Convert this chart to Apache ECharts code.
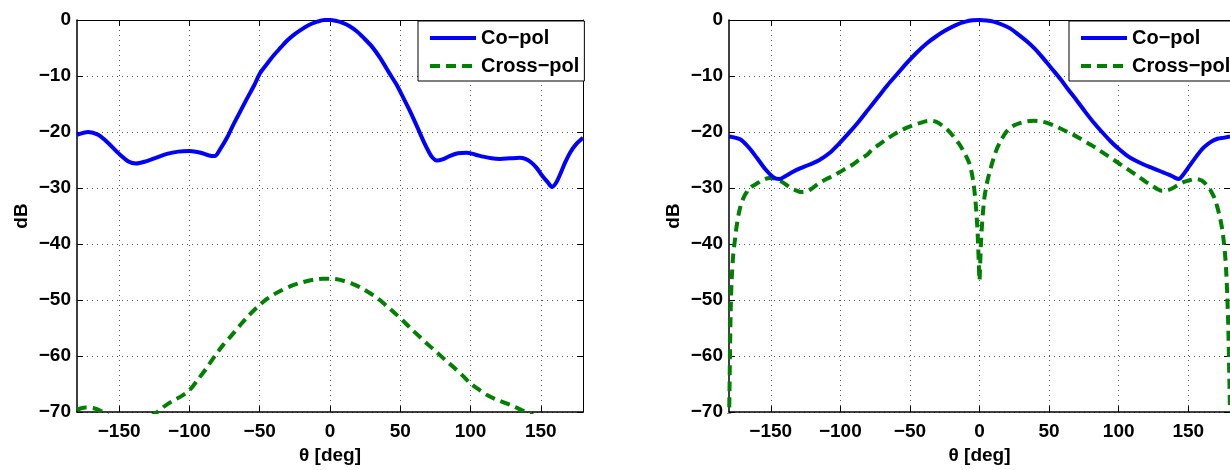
<!DOCTYPE html>
<html>
<head>
<meta charset="utf-8">
<script src="https://cdn.jsdelivr.net/npm/echarts@6/dist/echarts.min.js"></script>
<style>
html,body{margin:0;padding:0;background:#fff;}
#chart{width:1230px;height:470px;}
</style>
</head>
<body>
<div id="chart"></div>
<script>
// ---- data ----
const xTicks = [-150, -100, -50, 0, 50, 100, 150];
const yTicks = [-70, -60, -50, -40, -30, -20, -10, 0];
const seriesNames = ['Co\u2212pol', 'Cross\u2212pol'];
const xAxisName = '\u03b8 [deg]';
const yAxisName = 'dB';

// Left panel, Co-pol
const leftCoTheta = [-180, -172, -165, -158, -150, -143, -138, -132, -124, -116, -108, -100, -92, -86, -82, -78, -73, -69, -64, -59, -54, -50, -45, -40, -35, -31, -26, -21, -15, -9, -4, 0, 5, 9, 14, 19, 24, 30, 36, 42, 47, 52, 57, 61, 64, 67, 70, 73, 76, 80, 85, 91, 97, 103, 109, 115, 121, 128, 135, 139, 143, 147, 151, 155, 158, 161, 164, 167, 171, 175, 180];
const leftCo = [-20.5, -20.0, -20.5, -21.9, -23.9, -25.3, -25.6, -25.3, -24.6, -23.9, -23.5, -23.4, -23.7, -24.2, -24.3, -23.0, -20.9, -18.8, -16.4, -14.0, -11.7, -9.6, -7.9, -6.3, -4.9, -3.8, -2.7, -1.8, -0.9, -0.3, 0.0, 0.0, -0.2, -0.5, -1.1, -2.0, -3.2, -4.8, -6.9, -9.4, -11.4, -13.8, -16.3, -18.5, -20.2, -21.9, -23.4, -24.6, -25.1, -24.9, -24.3, -23.8, -23.7, -24.0, -24.4, -24.7, -24.8, -24.7, -24.6, -24.8, -25.4, -26.4, -27.8, -29.0, -29.8, -29.0, -27.4, -25.6, -23.6, -22.2, -21.0];

// Left panel, Cross-pol
const leftCrossTheta = [-180, -174, -168, -163, -158, -150, -140, -130, -124, -118, -112, -106, -100, -94, -88, -82, -76, -70, -64, -58, -52, -46, -40, -34, -28, -22, -16, -10, -5, 0, 5, 10, 16, 22, 28, 34, 40, 46, 52, 58, 64, 70, 76, 82, 88, 94, 100, 106, 112, 118, 124, 130, 136, 142, 150, 160, 170, 180];
const leftCross = [-69.6, -69.2, -69.3, -69.8, -70.6, -71.8, -72.4, -71.2, -70.2, -69.0, -68.0, -67.2, -66.1, -64.2, -62.2, -60.0, -58.0, -56.3, -54.5, -52.8, -51.3, -50.0, -49.0, -48.2, -47.5, -47.0, -46.6, -46.3, -46.2, -46.2, -46.3, -46.6, -47.1, -47.8, -48.7, -49.7, -51.0, -52.3, -53.7, -55.2, -56.6, -58.0, -59.3, -60.7, -62.0, -63.4, -64.9, -66.0, -67.0, -67.7, -68.3, -68.9, -69.6, -70.3, -71.3, -72.2, -72.6, -72.5];

// Right panel, Co-pol
const rightCoTheta = [-180, -172, -166, -160, -154, -148, -144, -139, -134, -129, -122, -115, -108, -101, -94, -87, -80, -73, -66, -59, -52, -45, -38, -31, -24, -17, -10, -5, 0, 5, 10, 16, 22, 28, 34, 40, 46, 52, 58, 64, 70, 76, 82, 88, 94, 100, 106, 112, 118, 124, 130, 136, 140, 143, 147, 151, 156, 161, 166, 171, 176, 180];
const rightCo = [-20.8, -21.3, -22.7, -24.6, -26.6, -28.1, -28.4, -27.8, -27.1, -26.5, -25.8, -25.0, -23.8, -22.1, -20.2, -18.2, -16.0, -13.8, -11.6, -9.6, -7.6, -5.8, -4.2, -2.9, -1.8, -0.9, -0.3, -0.05, 0.0, -0.1, -0.3, -0.8, -1.5, -2.6, -3.8, -5.2, -6.9, -8.7, -10.5, -12.5, -14.4, -16.4, -18.3, -20.0, -21.6, -23.0, -24.2, -25.1, -25.8, -26.4, -27.0, -27.6, -28.1, -28.4, -27.4, -26.0, -24.3, -22.8, -21.8, -21.2, -21.0, -20.8];

// Right panel, Cross-pol
const rightCrossTheta = [-180, -179.6, -179.2, -178.7, -178, -177, -176, -174.5, -172.5, -170, -167, -164, -160, -155, -151, -147, -144, -140, -136, -132, -128, -124, -120, -115, -110, -105, -100, -96, -91, -86, -81, -77, -72, -67, -62, -58, -53, -48, -43, -39, -35, -31, -27, -23, -19, -15, -12, -9, -7, -5.5, -4.2, -3.2, -2.4, -1.7, -1.1, -0.5, 0, 0.5, 1.1, 1.8, 2.6, 3.5, 4.5, 6, 8, 10, 12.5, 15, 18, 21, 25, 29, 34, 39, 44, 49, 54, 60, 66, 72, 78, 84, 90, 96, 102, 108, 114, 119, 124, 128, 131, 135, 139, 143, 147, 151, 155, 158, 161, 164, 166.5, 169, 171, 173, 174.5, 175.5, 176.5, 177.3, 178, 178.7, 179.3, 180];
const rightCross = [-72.0, -65.5, -58.0, -51.0, -46.0, -42.0, -39.8, -36.8, -34.0, -32.0, -30.6, -29.8, -29.2, -28.5, -28.2, -28.3, -28.6, -29.2, -29.9, -30.4, -30.7, -30.6, -30.0, -29.1, -28.4, -27.8, -27.1, -26.5, -25.8, -24.9, -24.1, -23.1, -22.2, -21.3, -20.5, -19.9, -19.3, -18.8, -18.4, -18.1, -18.0, -18.2, -18.8, -19.6, -20.7, -22.0, -23.2, -24.6, -25.8, -27.4, -29.3, -31.5, -33.8, -36.5, -39.5, -43.5, -46.5, -43.5, -39.6, -36.6, -34.0, -31.8, -30.2, -28.4, -26.5, -24.8, -23.0, -21.7, -20.4, -19.5, -18.8, -18.4, -18.1, -18.0, -18.1, -18.4, -18.9, -19.6, -20.3, -21.1, -22.0, -22.9, -23.9, -24.9, -25.9, -26.9, -27.9, -28.8, -29.6, -30.2, -30.5, -30.4, -30.0, -29.4, -28.9, -28.6, -28.4, -28.5, -28.9, -29.7, -30.6, -31.9, -33.5, -35.5, -37.5, -39.5, -42.0, -45.0, -49.0, -54.0, -61.0, -70.0];

// ---- chart ----
const FONT = "'Liberation Sans', Arial, sans-serif";
const BLUE = '#0000ff';
const GREEN = '#008000';
const fmt = v => String(v).replace('-', '\u2212');

function pairs(xs, ys) { return xs.map((x, i) => [x, ys[i]]); }

const grids = [
  { left: 77, top: 20, width: 506, height: 399 },
  { left: 729, top: 20, width: 506, height: 399 }
];

const xAxes = [], yAxes = [];
grids.forEach((g, i) => {
  xAxes.push({
    type: 'value', gridIndex: i, min: -180, max: 180, position: 'bottom',
    name: xAxisName, nameLocation: 'middle', nameGap: 24,
    nameTextStyle: { fontFamily: FONT, fontWeight: 'bold', fontSize: 19, color: '#000' },
    axisLine: { show: true, onZero: false, lineStyle: { color: '#000', width: 1.5 } },
    axisTick: { show: true, inside: true, length: 6, customValues: xTicks, lineStyle: { color: '#000' } },
    axisLabel: { customValues: xTicks, formatter: fmt, margin: 10, fontFamily: FONT, fontWeight: 'bold', fontSize: 19, color: '#000' },
    splitLine: { show: true, customValues: xTicks, lineStyle: { color: '#555', type: [1, 4], width: 1 } }
  });
  xAxes.push({
    type: 'value', gridIndex: i, min: -180, max: 180, position: 'top',
    axisLine: { show: true, onZero: false, lineStyle: { color: '#000', width: 1 } },
    axisTick: { show: true, inside: true, length: 6, customValues: xTicks, lineStyle: { color: '#000' } },
    axisLabel: { show: false }, splitLine: { show: false }
  });
  yAxes.push({
    type: 'value', gridIndex: i, min: -70, max: 0, interval: 10, position: 'left',
    name: yAxisName, nameLocation: 'middle', nameGap: 46,
    nameTextStyle: { fontFamily: FONT, fontWeight: 'bold', fontSize: 19, color: '#000' },
    axisLine: { show: true, onZero: false, lineStyle: { color: '#000', width: 1.5 } },
    axisTick: { show: true, inside: true, length: 6, lineStyle: { color: '#000' } },
    axisLabel: { formatter: fmt, margin: 6, fontFamily: FONT, fontWeight: 'bold', fontSize: 19, color: '#000' },
    splitLine: { show: true, lineStyle: { color: '#555', type: [1, 4], width: 1 } }
  });
  yAxes.push({
    type: 'value', gridIndex: i, min: -70, max: 0, interval: 10, position: 'right',
    axisLine: { show: true, onZero: false, lineStyle: { color: '#000', width: 1 } },
    axisTick: { show: true, inside: true, length: 6, lineStyle: { color: '#000' } },
    axisLabel: { show: false }, splitLine: { show: false }
  });
});

function lineSeries(name, gi, data, color, dashed) {
  return {
    name: name, type: 'line', xAxisIndex: gi * 2, yAxisIndex: gi * 2,
    data: data, symbol: 'none', showSymbol: false, smooth: 0.3, clip: true,
    lineStyle: { color: color, width: 4, type: dashed ? [10, 6] : 'solid', cap: 'butt' },
    itemStyle: { color: color },
    z: dashed ? 3 : 4, animation: false
  };
}

const series = [
  lineSeries(seriesNames[0], 0, pairs(leftCoTheta, leftCo), BLUE, false),
  lineSeries(seriesNames[1], 0, pairs(leftCrossTheta, leftCross), GREEN, true),
  lineSeries(seriesNames[0], 1, pairs(rightCoTheta, rightCo), BLUE, false),
  lineSeries(seriesNames[1], 1, pairs(rightCrossTheta, rightCross), GREEN, true)
];

const legendBase = {
  orient: 'vertical', top: 21, itemWidth: 46, itemHeight: 14, itemGap: 8,
  padding: [7, 5, 5, 10], backgroundColor: '#fff', borderColor: '#000', borderWidth: 1,
  itemStyle: { color: 'transparent', borderWidth: 0, opacity: 0 },
  lineStyle: { width: 4 },
  textStyle: { fontFamily: FONT, fontWeight: 'bold', fontSize: 20, color: '#000' },
  data: seriesNames, selectedMode: false
};

const option = {
  animation: false,
  backgroundColor: '#fff',
  grid: grids,
  xAxis: xAxes,
  yAxis: yAxes,
  legend: [
    Object.assign({}, legendBase, { left: 418 }),
    Object.assign({}, legendBase, { left: 1069 })
  ],
  series: series
};

const chart = echarts.init(document.getElementById('chart'), null, { renderer: 'canvas' });
chart.setOption(option);
</script>
</body>
</html>
